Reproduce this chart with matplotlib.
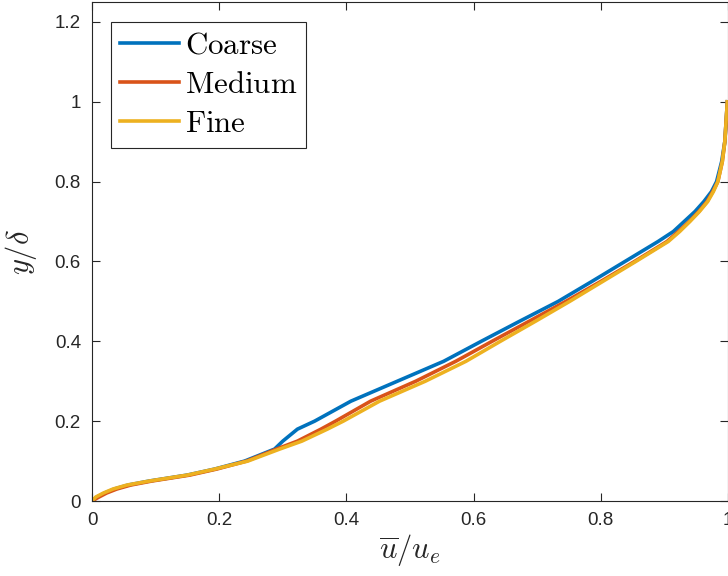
import matplotlib
matplotlib.use('Agg')
import matplotlib.pyplot as plt

# y/delta levels and mean velocity u/u_e for each grid
Y_DELTA = [0.0, 0.01, 0.02, 0.03, 0.04, 0.05, 0.065, 0.08, 0.10, 0.13, 0.15,
           0.18, 0.20, 0.25, 0.30, 0.35, 0.40, 0.45, 0.50, 0.55, 0.60, 0.65,
           0.675, 0.70, 0.725, 0.75, 0.775, 0.80, 0.85, 0.90, 0.95, 1.0]
U_COARSE = [0.0, 0.008, 0.020, 0.035, 0.057, 0.090, 0.150, 0.193, 0.240,
            0.287, 0.300, 0.323, 0.350, 0.407, 0.480, 0.553, 0.612, 0.672,
            0.733, 0.786, 0.838, 0.890, 0.914, 0.931, 0.948, 0.962, 0.974,
            0.982, 0.990, 0.995, 0.997, 0.999]
U_MEDIUM = [0.0, 0.011, 0.023, 0.039, 0.061, 0.094, 0.154, 0.196, 0.243,
            0.290, 0.323, 0.360, 0.383, 0.438, 0.509, 0.572, 0.629, 0.687,
            0.745, 0.800, 0.853, 0.904, 0.922, 0.939, 0.954, 0.967, 0.976,
            0.984, 0.991, 0.995, 0.997, 0.999]
U_FINE = [0.0, 0.006, 0.018, 0.033, 0.055, 0.090, 0.150, 0.193, 0.245,
          0.295, 0.330, 0.370, 0.395, 0.452, 0.524, 0.588, 0.642, 0.697,
          0.751, 0.803, 0.855, 0.906, 0.924, 0.940, 0.955, 0.968, 0.977,
          0.984, 0.991, 0.995, 0.997, 0.999]
ETIQUETAS = ['Coarse', 'Medium', 'Fine']
COLORES = ['#0072BD', '#D95319', '#EDB120']

X_TICKS = [0, 0.2, 0.4, 0.6, 0.8, 1.0]
Y_TICKS = [0, 0.2, 0.4, 0.6, 0.8, 1.0, 1.2]

COLOR_EJE = '#262626'

plt.rcParams['mathtext.fontset'] = 'cm'
plt.rcParams['font.family'] = ['Liberation Sans', 'DejaVu Sans']

fig = plt.figure(figsize=(7.28, 5.76), dpi=100)
ax = fig.add_axes([92 / 728, 75 / 576, 636 / 728, 499 / 576])

for u, etiqueta, color in zip([U_COARSE, U_MEDIUM, U_FINE], ETIQUETAS, COLORES):
    ax.plot(u, Y_DELTA, color=color, linewidth=2.6, label=r'$\mathrm{%s}$' % etiqueta)

ax.set_xlim(0, 1)
ax.set_ylim(0, 1.25)
ax.set_xticks(X_TICKS)
ax.set_yticks(Y_TICKS)
ax.set_xticklabels(['%g' % t for t in X_TICKS])
ax.set_yticklabels(['%g' % t for t in Y_TICKS])
ax.tick_params(direction='in', length=6, width=0.8, colors=COLOR_EJE,
               labelsize=13.5, top=True, right=True, pad=8)
for spine in ax.spines.values():
    spine.set_color(COLOR_EJE)
    spine.set_linewidth(0.8)

ax.set_xlabel(r'$\overline{u}/u_e$', fontsize=22, color=COLOR_EJE, labelpad=2)
ax.set_ylabel(r'$y/\delta$', fontsize=22, color=COLOR_EJE, labelpad=11)

leg = ax.legend(loc='upper left', bbox_to_anchor=(0.030, 0.9605), borderaxespad=0,
                fontsize=22.3, handlelength=1.9, handletextpad=0.2, labelspacing=0.3,
                borderpad=0.28, fancybox=False, framealpha=1)
leg.get_frame().set_edgecolor(COLOR_EJE)
leg.get_frame().set_linewidth(0.8)

fig.savefig('out.png', dpi=100)
